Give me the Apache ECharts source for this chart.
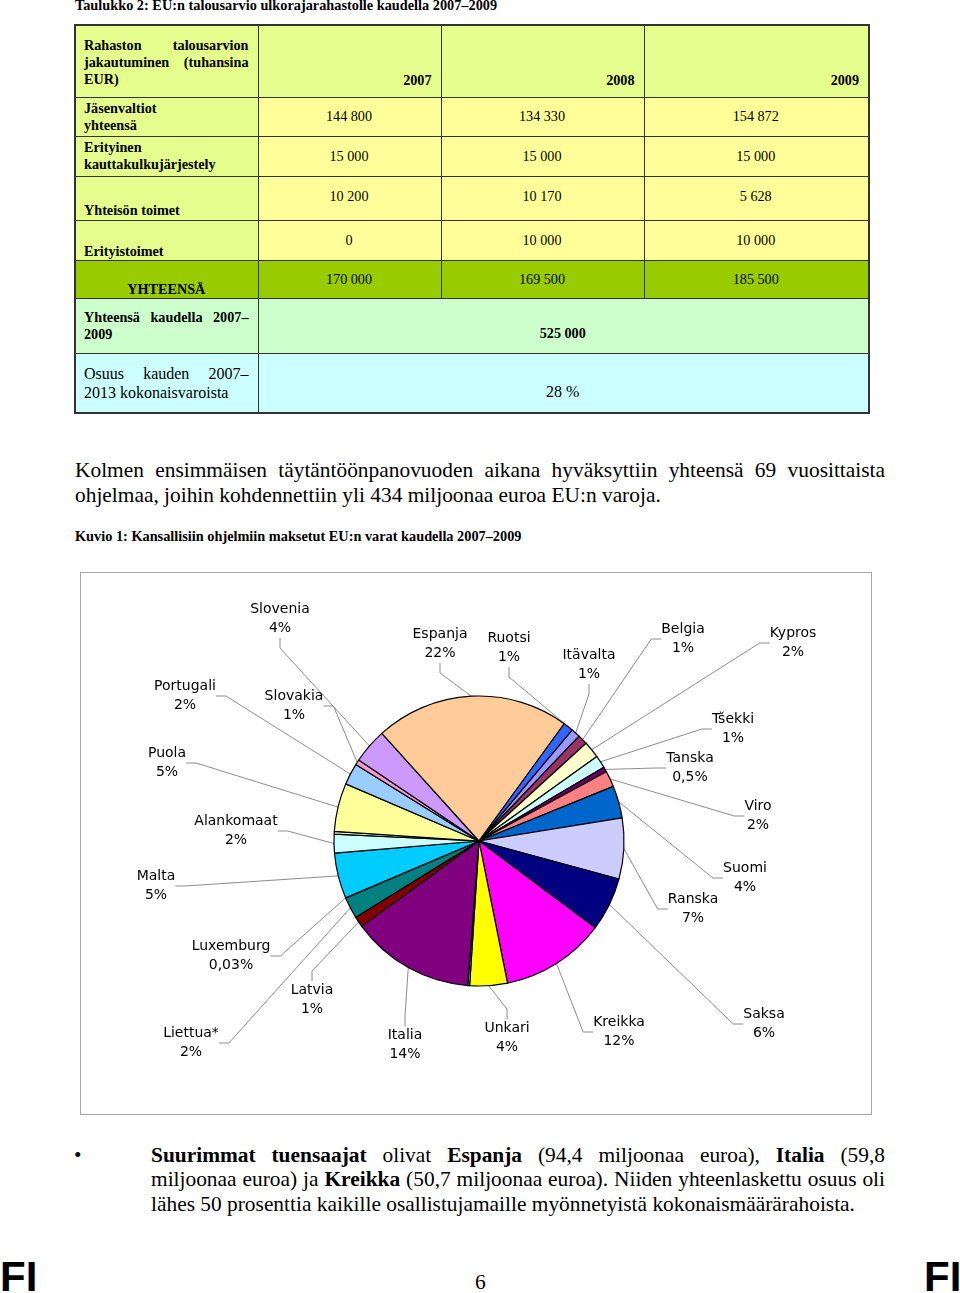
<!DOCTYPE html>
<html>
<head>
<meta charset="utf-8">
<script src="https://cdn.jsdelivr.net/npm/echarts@6/dist/echarts.min.js"></script>
<style>
  html, body { margin:0; padding:0; background:#fff; }
  body { width:960px; height:1293px; position:relative; overflow:hidden; font-family:"Liberation Serif","Times New Roman",serif; color:#000; }
  .abs { position:absolute; }
  .cap { font-weight:bold; font-size:14.3px; white-space:nowrap; }
  table.t { position:absolute; left:74px; top:24px; border-collapse:collapse; border:2px solid #333; font-size:14.2px; }
  table.t td { border:1px solid #333; padding:0 9px 0 8px; }
  .h { background:#e4fd8d; }
  .d { background:#ffff99; text-align:center; }
  .tot { background:#99cc00; }
  .g { background:#ccffcc; }
  .c { background:#ccffff; }
  .b { font-weight:bold; }
  .just { text-align:justify; }
  .line { position:absolute; font-size:21.4px; white-space:nowrap; }
  .jl { text-align:justify; text-align-last:justify; white-space:normal; }
  #chart { position:absolute; left:80px; top:572px; width:792px; height:543px; border:1px solid #a8a8a8; box-sizing:border-box; }
  .fi { position:absolute; font-family:"Liberation Sans",Arial,sans-serif; font-weight:bold; font-size:42px; line-height:42px; }
</style>
</head>
<body>
<div class="abs cap" style="left:75px;top:-3px;">Taulukko 2: EU:n talousarvio ulkorajarahastolle kaudella 2007–2009</div>

<table class="t">
  <colgroup><col style="width:183px"><col style="width:183px"><col style="width:203px"><col style="width:225px"></colgroup>
  <tr style="height:72px">
    <td class="h b" style="vertical-align:top;padding-top:11px;line-height:17px;"><div class="just">Rahaston talousarvion jakautuminen (tuhansina EUR)</div></td>
    <td class="h b" style="text-align:right;vertical-align:bottom;padding-bottom:8px;" id="y0"></td>
    <td class="h b" style="text-align:right;vertical-align:bottom;padding-bottom:8px;" id="y1"></td>
    <td class="h b" style="text-align:right;vertical-align:bottom;padding-bottom:8px;" id="y2"></td>
  </tr>
  <tr style="height:39px">
    <td class="h b" style="line-height:17px;">Jäsenvaltiot<br>yhteensä</td>
    <td class="d" id="r0c0"></td><td class="d" id="r0c1"></td><td class="d" id="r0c2"></td>
  </tr>
  <tr style="height:40px">
    <td class="h b" style="line-height:17px;">Erityinen<br>kauttakulkujärjestely</td>
    <td class="d" id="r1c0"></td><td class="d" id="r1c1"></td><td class="d" id="r1c2"></td>
  </tr>
  <tr style="height:44px">
    <td class="h b" style="vertical-align:bottom;padding-bottom:1px;">Yhteisön toimet</td>
    <td class="d" style="padding-bottom:4px" id="r2c0"></td><td class="d" style="padding-bottom:4px" id="r2c1"></td><td class="d" style="padding-bottom:4px" id="r2c2"></td>
  </tr>
  <tr style="height:40px">
    <td class="h b" style="vertical-align:bottom;padding-bottom:0px;">Erityistoimet</td>
    <td class="d" id="r3c0"></td><td class="d" id="r3c1"></td><td class="d" id="r3c2"></td>
  </tr>
  <tr style="height:38px">
    <td class="tot b" style="vertical-align:bottom;text-align:center;padding-bottom:0px;">YHTEENSÄ</td>
    <td class="tot" style="text-align:center" id="r4c0"></td><td class="tot" style="text-align:center" id="r4c1"></td><td class="tot" style="text-align:center" id="r4c2"></td>
  </tr>
  <tr style="height:55px">
    <td class="g b" style="vertical-align:top;padding-top:10px;line-height:17px;"><div class="just">Yhteensä kaudella 2007– 2009</div></td>
    <td class="g b" colspan="3" style="text-align:center;vertical-align:top;padding-top:26px;" id="grand"></td>
  </tr>
  <tr style="height:60px">
    <td class="c" style="vertical-align:top;padding-top:10px;line-height:19px;font-size:16px;"><div class="just">Osuus kauden 2007– 2013 kokonaisvaroista</div></td>
    <td class="c" colspan="3" style="text-align:center;vertical-align:top;padding-top:29px;font-size:16px;" id="share"></td>
  </tr>
</table>

<div class="line jl" style="left:75px;top:458px;width:810px;">Kolmen ensimmäisen täytäntöönpanovuoden aikana hyväksyttiin yhteensä 69 vuosittaista</div>
<div class="line" style="left:75px;top:483px;">ohjelmaa, joihin kohdennettiin yli 434 miljoonaa euroa EU:n varoja.</div>

<div class="abs cap" style="left:75px;top:528px;">Kuvio 1: Kansallisiin ohjelmiin maksetut EU:n varat kaudella 2007–2009</div>

<div id="chart"></div>

<div class="line" style="left:74px;top:1143px;">•</div>
<div class="line jl" style="left:151px;top:1143px;width:734px;"><b>Suurimmat tuensaajat</b> olivat <b>Espanja</b> (94,4 miljoonaa euroa), <b>Italia</b> (59,8</div>
<div class="line jl" style="left:151px;top:1167px;width:734px;">miljoonaa euroa) ja <b>Kreikka</b> (50,7 miljoonaa euroa). Niiden yhteenlaskettu osuus oli</div>
<div class="line" style="left:151px;top:1192px;">lähes 50 prosenttia kaikille osallistujamaille myönnetyistä kokonaismäärärahoista.</div>

<div class="line" style="left:475px;top:1270px;">6</div>
<div class="fi" style="left:0px;top:1256px;">FI</div>
<div class="fi" style="left:924px;top:1256px;">FI</div>

<script>
// ---- Table data ----
const years = ['2007', '2008', '2009'];
const jasenvaltiot = ['144 800', '134 330', '154 872'];
const kauttakulku = ['15 000', '15 000', '15 000'];
const yhteisonToimet = ['10 200', '10 170', '5 628'];
const erityistoimet = ['0', '10 000', '10 000'];
const yhteensa = ['170 000', '169 500', '185 500'];
const grandTotal = '525 000';
const shareText = '28 %';

// ---- Pie data (milj. euroa) ----
const countries = ['Itävalta', 'Belgia', 'Kypros', 'Tšekki', 'Tanska', 'Viro', 'Suomi', 'Ranska', 'Saksa', 'Kreikka', 'Unkari', 'Islanti', 'Italia', 'Latvia', 'Liettua*', 'Luxemburg', 'Malta', 'Alankomaat', 'Norja', 'Puola', 'Portugali', 'Slovakia', 'Slovenia', 'Espanja', 'Ruotsi'];
const amounts = [4.4, 4.8, 8.2, 6.1, 2.4, 7.8, 15.6, 29.5, 26.0, 50.7, 18.2, 0.9, 59.8, 5.2, 10.4, 0.13, 22.1, 9.1, 1.3, 23.4, 10.4, 2.6, 16.9, 94.4, 4.8];
const pctLabels = ['1%', '1%', '2%', '1%', '0,5%', '2%', '4%', '7%', '6%', '12%', '4%', '', '14%', '1%', '2%', '0,03%', '5%', '2%', '', '5%', '2%', '1%', '4%', '22%', '1%'];

// ---- styles (separate from data) ----
const sliceColors = ['#9999FF', '#993366', '#FFFFCC', '#CCFFFF', '#660066', '#FF8080', '#0066CC', '#CCCCFF', '#000080', '#FF00FF', '#FFFF00', '#00FFFF', '#800080', '#800000', '#008080', '#0000FF', '#00CCFF', '#CCFFFF', '#CCFFCC', '#FFFF99', '#99CCFF', '#FF99CC', '#CC99FF', '#FFCC99', '#3366FF'];
// label placement relative to pie centre (as dragged in the original)
const labelOffsets = [[110,-176],[204,-202],[314,-198],[254,-112],[211,-73],[279,-25],[266,37],[214,68],[285,183],[140,191],[28,197],null,[-74,204],[-167,159],[-288,202],[-248,115],[-323,45],[-243,-10],null,[-312,-78],[-294,-145],[-185,-135],[-199,-222],[-39,-197],[30,-193]];

// fill table
years.forEach((y, i) => document.getElementById('y' + i).textContent = y);
[jasenvaltiot, kauttakulku, yhteisonToimet, erityistoimet, yhteensa].forEach((row, r) =>
  row.forEach((v, c) => document.getElementById('r' + r + 'c' + c).textContent = v));
document.getElementById('grand').textContent = grandTotal;
document.getElementById('share').textContent = shareText;

const CX = 398, CY = 268;
const chart = echarts.init(document.getElementById('chart'), null, {renderer: 'canvas'});
const data = countries.map((name, i) => {
  const item = { name: name, value: amounts[i], itemStyle: { color: sliceColors[i] } };
  if (!pctLabels[i]) { item.label = { show: false }; item.labelLine = { show: false }; }
  return item;
});
chart.setOption({
  animation: false,
  backgroundColor: '#fff',
  series: [{
    type: 'pie',
    center: [CX, CY],
    radius: [0, 145],
    startAngle: 50,
    clockwise: true,
    avoidLabelOverlap: false,
    emphasis: { disabled: true },
    itemStyle: { borderColor: '#000', borderWidth: 1.2 },
    label: {
      show: true,
      position: 'outside',
      fontFamily: 'DejaVu Sans, Verdana, sans-serif',
      fontSize: 14,
      lineHeight: 19,
      color: '#000',
      align: 'center',
      formatter: p => p.name + '\n' + pctLabels[p.dataIndex]
    },
    labelLine: { show: true, length: 10, length2: 10, lineStyle: { color: '#8c8c8c', width: 1 } },
    labelLayout: function (params) {
      const off = labelOffsets[params.dataIndex];
      if (!off) return {};
      return { x: CX + off[0], y: CY + off[1], align: 'center', verticalAlign: 'middle' };
    },
    data: data
  }]
});
</script>
</body>
</html>
